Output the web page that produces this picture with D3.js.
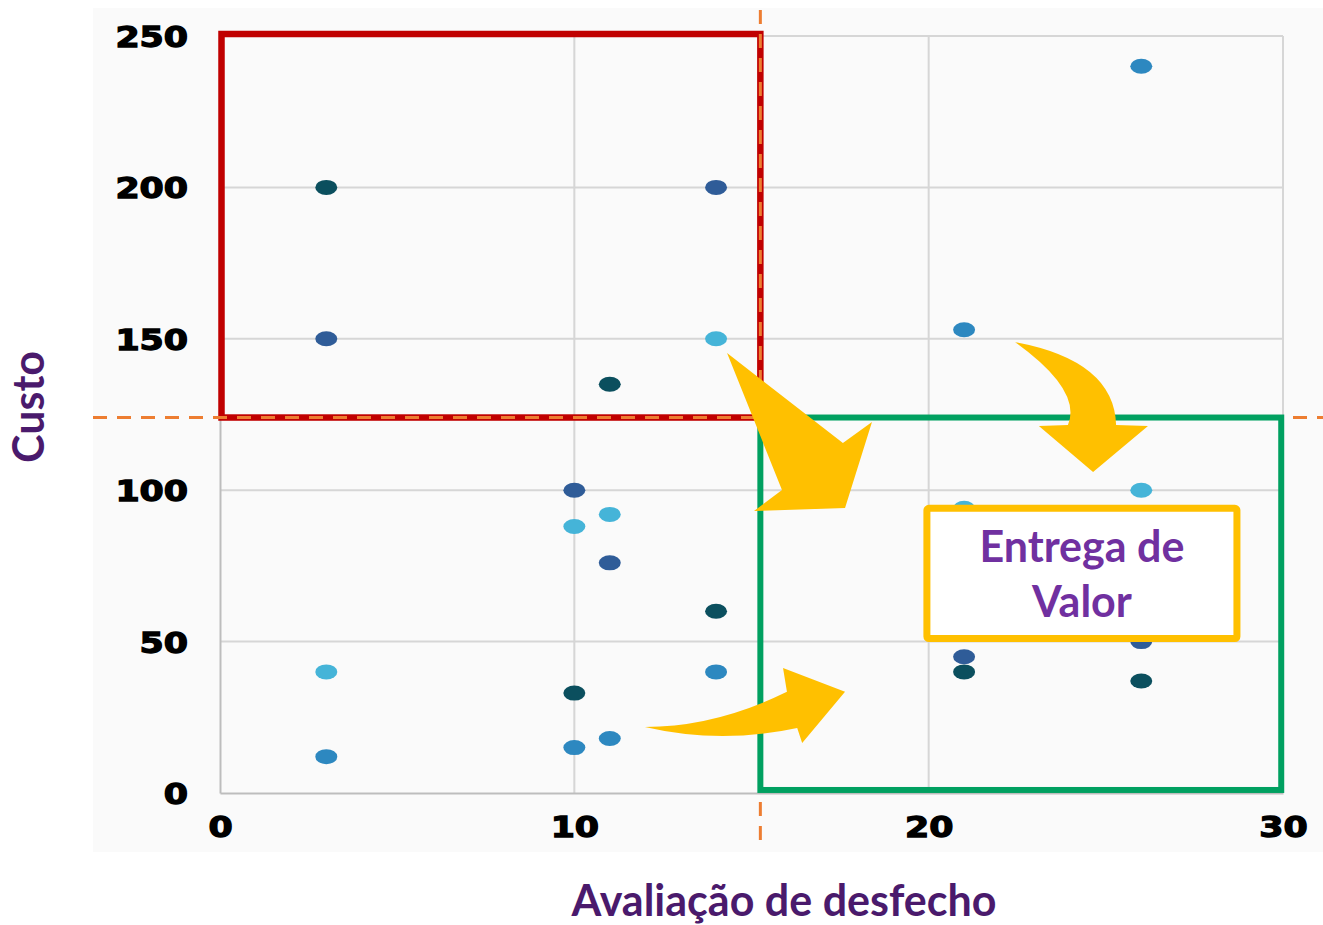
<!DOCTYPE html>
<html>
<head>
<meta charset="utf-8">
<script src="https://cdn.jsdelivr.net/npm/d3@7"></script>
<style>
  body { margin: 0; background: #ffffff; }
  svg { display: block; }
</style>
</head>
<body>
<svg id="chart" width="1323" height="925"></svg>
<script>
// ---- data ----
const seriesNames = ["Grupo A", "Grupo B", "Grupo C", "Grupo D"];
const seriesColors = ["#0b4f5e", "#2f5c98", "#45b4d8", "#2d88c0"];
const outcomeScores = [3, 10, 11, 14, 21, 26];
const costGroupA = [200, 33, 135, 60, 40, 37];
const costGroupB = [150, 100, 76, 200, 45, 50];
const costGroupC = [40, 88, 92, 150, 94, 100];
const costGroupD = [12, 15, 18, 40, 153, 240];
const xTickValues = [0, 10, 20, 30];
const yTickValues = [0, 50, 100, 150, 200, 250];
const xTitle = "Avaliação de desfecho";
const yTitle = "Custo";
const valueLabel = ["Entrega de", "Valor"];
const outcomeThreshold = 15.25;
const costThreshold = 124;

const costSeries = [costGroupA, costGroupB, costGroupC, costGroupD];
const points = [];
costSeries.forEach((costs, s) => {
  costs.forEach((c, i) => points.push({ series: seriesNames[s], color: seriesColors[s], x: outcomeScores[i], y: c }));
});

// ---- layout ----
const W = 1323, H = 925;
const plot = { left: 220, right: 1283, top: 36, bottom: 793 };

const svg = d3.select("#chart");
const x = d3.scaleLinear().domain([0, 30]).range([plot.left, plot.right]);
const y = d3.scaleLinear().domain([0, 250]).range([plot.bottom, plot.top]);

// soft panel behind the chart
svg.append("rect").attr("x", 93).attr("y", 8).attr("width", W - 93).attr("height", 844)
  .attr("fill", "#fafafa");

// gridlines
const grid = svg.append("g");
grid.selectAll("line.h").data(yTickValues.filter(v => v > 0)).join("line")
  .attr("x1", plot.left).attr("x2", plot.right)
  .attr("y1", d => y(d)).attr("y2", d => y(d))
  .attr("stroke", "#d6d6d6").attr("stroke-width", 2);
grid.selectAll("line.v").data(xTickValues.filter(v => v > 0)).join("line")
  .attr("y1", plot.top).attr("y2", plot.bottom)
  .attr("x1", d => x(d)).attr("x2", d => x(d))
  .attr("stroke", "#d6d6d6").attr("stroke-width", 2);

// axes
const tickFont = "'DejaVu Sans', Verdana, sans-serif";
const yAxis = svg.append("g").attr("transform", `translate(${plot.left},0)`)
  .call(d3.axisLeft(y).tickValues(yTickValues).tickSize(0).tickPadding(0).tickFormat(d3.format("d")));
const xAxis = svg.append("g").attr("transform", `translate(0,${plot.bottom})`)
  .call(d3.axisBottom(x).tickValues(xTickValues).tickSize(0).tickPadding(0).tickFormat(d3.format("d")));
[xAxis, yAxis].forEach(g => {
  g.select(".domain").attr("stroke", "#bdbdbd").attr("stroke-width", 2);
  g.selectAll("text").attr("fill", "#000").attr("stroke", "#000").attr("stroke-width", 1.3)
    .style("font-family", tickFont)
    .style("font-size", "29px").style("font-weight", "bold");
});
yAxis.selectAll("text").attr("x", 0).attr("dy", "0.36em")
  .attr("transform", "translate(-32,0) scale(1.2,1)");
xAxis.selectAll("text").attr("y", 0).attr("dy", 0)
  .attr("transform", "translate(0,44) scale(1.2,1)");

// quadrant of high cost / low outcome
svg.append("rect")
  .attr("x", x(0) + 1.5).attr("y", y(250) - 2)
  .attr("width", x(outcomeThreshold) - x(0) - 1.5).attr("height", y(costThreshold) - y(250) + 2)
  .attr("fill", "none").attr("stroke", "#c00000").attr("stroke-width", 6.5);

// threshold guides
const guide = svg.append("g").attr("stroke", "#ed7d31").attr("stroke-width", 3)
  .attr("stroke-dasharray", "14 10");
guide.append("line").attr("x1", x(outcomeThreshold)).attr("x2", x(outcomeThreshold))
  .attr("y1", 10).attr("y2", 850);
guide.append("line").attr("y1", y(costThreshold)).attr("y2", y(costThreshold))
  .attr("x1", 93).attr("x2", W);

// value quadrant
svg.append("rect")
  .attr("x", x(outcomeThreshold)).attr("y", y(costThreshold))
  .attr("width", x(29.95) - x(outcomeThreshold)).attr("height", y(1) - y(costThreshold))
  .attr("fill", "none").attr("stroke", "#00a060").attr("stroke-width", 6);

// points
svg.append("g").selectAll("ellipse").data(points).join("ellipse")
  .attr("cx", d => x(d.x)).attr("cy", d => y(d.y))
  .attr("rx", 11).attr("ry", 7.5)
  .attr("fill", d => d.color);

// value label box
const box = { x0: 19.95, x1: 28.7, y0: 51, y1: 94 };
svg.append("rect")
  .attr("x", x(box.x0)).attr("y", y(box.y1))
  .attr("width", x(box.x1) - x(box.x0)).attr("height", y(box.y0) - y(box.y1))
  .attr("rx", 2)
  .attr("fill", "#ffffff").attr("stroke", "#ffc000").attr("stroke-width", 7);
const labelFont = "Lato, 'Open Sans', sans-serif";
svg.append("text")
  .attr("x", (x(box.x0) + x(box.x1)) / 2).attr("y", 562)
  .attr("text-anchor", "middle").attr("fill", "#7030a0")
  .style("font-family", labelFont).style("font-weight", "bold").style("font-size", "43px")
  .selectAll("tspan").data(valueLabel).join("tspan")
  .attr("x", (x(box.x0) + x(box.x1)) / 2).attr("dy", (d, i) => i ? 55 : 0)
  .text(d => d);

// arrows (shapes given in data units)
const arrowFill = "#ffc000";
const P = (a, b) => `${x(a)},${y(b)}`;
const bigArrow = [[14.31, 145.3], [17.58, 115.6], [18.40, 122.5], [17.64, 94.1], [15.07, 93.1], [15.86, 100.1]];
svg.append("path")
  .attr("d", "M" + bigArrow.map(p => P(p[0], p[1])).join("L") + "Z")
  .attr("fill", arrowFill);
svg.append("path")
  .attr("d", `M${P(22.44, 148.9)}Q${P(25.24, 142.8)} ${P(25.29, 121.5)}L${P(26.19, 121.2)}L${P(24.64, 106.0)}L${P(23.11, 121.2)}L${P(23.93, 121.5)}Q${P(24.34, 132.9)} ${P(22.44, 148.9)}Z`)
  .attr("fill", arrowFill);
svg.append("path")
  .attr("d", `M${P(11.99, 21.8)}Q${P(13.98, 21.8)} ${P(16.00, 33.4)}L${P(15.89, 41.3)}L${P(17.64, 33.4)}L${P(16.43, 16.5)}L${P(16.29, 21.5)}Q${P(14.12, 16.0)} ${P(11.99, 21.8)}Z`)
  .attr("fill", arrowFill);

// axis titles
const titleColor = "#4a1a6c";
svg.append("text")
  .attr("x", 784).attr("y", 916).attr("text-anchor", "middle")
  .attr("fill", titleColor)
  .style("font-family", labelFont).style("font-weight", "bold").style("font-size", "43px")
  .text(xTitle);
svg.append("text")
  .attr("transform", "translate(44,407) rotate(-90)").attr("text-anchor", "middle")
  .attr("fill", titleColor)
  .style("font-family", labelFont).style("font-weight", "bold").style("font-size", "43px")
  .text(yTitle);
</script>
</body>
</html>
